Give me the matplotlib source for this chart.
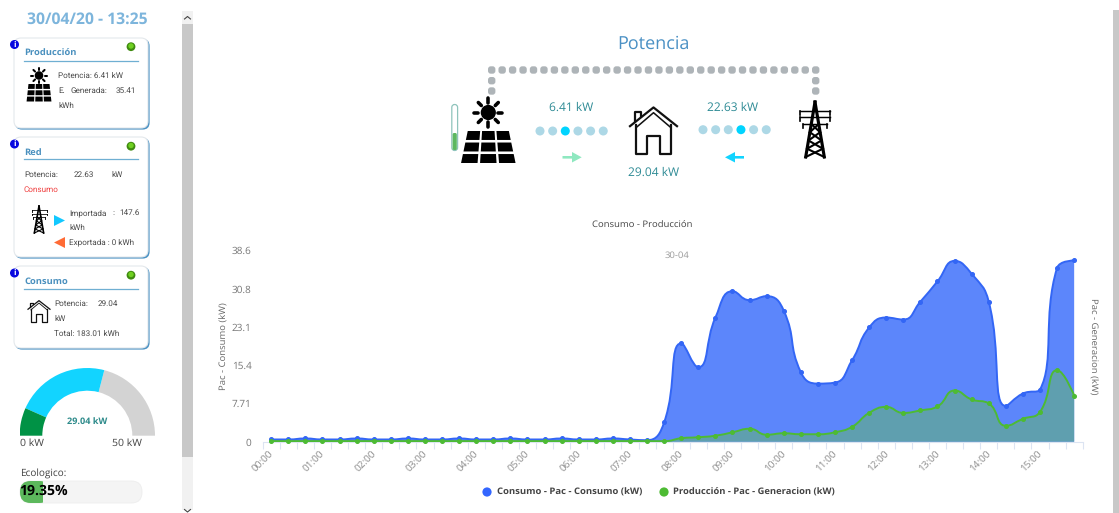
import numpy as np
import matplotlib
matplotlib.use("Agg")
import matplotlib.pyplot as plt
from matplotlib.patches import Circle, Rectangle, FancyBboxPatch, Polygon, Wedge, PathPatch
from matplotlib.path import Path
from matplotlib.transforms import ScaledTranslation

FONT = "Open Sans"
plt.rcParams["font.family"] = [FONT, "DejaVu Sans"]
plt.rcParams["text.hinting"] = "none"
plt.rcParams["text.hinting_factor"] = 8

consumo = [0.45, 0.45, 0.65, 0.45, 0.45, 0.65, 0.45, 0.45, 0.65, 0.45, 0.45, 0.65,
           0.45, 0.45, 0.65, 0.45, 0.45, 0.65, 0.45, 0.45, 0.65, 0.45, 0.3, 3.9,
           19.8, 15.0, 25.0, 30.3, 28.5, 29.3, 26.4, 14.0, 11.7, 11.9, 16.4, 23.0,
           25.0, 24.6, 28.2, 32.3, 36.4, 33.8, 28.2, 7.2, 9.7, 10.5, 35.0, 36.5]
produccion = [0.12] * 23 + [0.1, 0.7, 0.9, 1.2, 1.9, 2.6, 1.4, 1.7, 1.5, 1.5, 1.9, 3.0, 5.8,
              7.0, 5.8, 6.3, 7.1, 10.3, 8.5, 7.7, 3.2, 4.6, 6.0, 14.4, 9.3]
hours = ["%02d:00" % h for h in range(16)]
y_ticks = [0, 7.71, 15.4, 23.1, 30.8, 38.6]
y_labels = ["0", "7.71", "15.4", "23.1", "30.8", "38.6"]

W, H = 1119, 513
fig = plt.figure(figsize=(W / 100, H / 100), dpi=100, facecolor="white")
bg = fig.add_axes([0, 0, 1, 1])
bg.set_xlim(0, W); bg.set_ylim(H, 0); bg.axis("off")


def px(s):
    return s * 0.72


def txt(x, y, s, size=8, color="#555555", ha="left", weight="normal", **kw):
    return bg.text(x, y, s, fontsize=px(size), color=color, ha=ha, va="center", fontweight=weight, **kw)


def ctxt(x, y, s, color="#4A4A4A"):
    return txt(x, y, s, 8.2, color, family=["Roboto", "DejaVu Sans"], zorder=4)


def poly(pts, color, z=3, **kw):
    bg.add_patch(Polygon(pts, closed=True, fc=color, ec="none", zorder=z, **kw))


def solar(cx, sy, r, ray, ptop, pbot, ht, hb):
    bg.add_patch(Circle((cx, sy), r, fc="black", ec="none", zorder=3))
    for a in np.arange(8) * np.pi / 4:
        bg.plot([cx + (r + ray * .35) * np.cos(a), cx + (r + ray) * np.cos(a)],
                [sy + (r + ray * .35) * np.sin(a), sy + (r + ray) * np.sin(a)],
                color="black", lw=max(1.1, r * .34), solid_capstyle="round", zorder=3)
    rows, cols = 3, 3
    gap = (pbot - ptop) * .08
    rh = ((pbot - ptop) - 2 * gap) / rows
    for i in range(rows):
        y0 = ptop + i * (rh + gap); y1 = y0 + rh
        def xe(y, u):
            h = ht + (hb - ht) * (y - ptop) / (pbot - ptop)
            return cx - h + 2 * h * u
        for j in range(cols):
            u0 = j / cols + .022; u1 = (j + 1) / cols - .022
            poly([(xe(y0, u0), y0), (xe(y0, u1), y0), (xe(y1, u1), y1), (xe(y1, u0), y1)], "black")


def house(x0, x1, y0, y1, lw):
    w = x1 - x0; h = y1 - y0
    bg.plot([x0, x0 + .5 * w, x1], [y0 + .42 * h, y0 + .03 * h, y0 + .42 * h], color="#111111", lw=lw, zorder=3)
    bg.plot([x0 + .1 * w, x0 + .1 * w, x0 + .24 * w, x0 + .24 * w],
            [y0 + .31 * h, y0 + .12 * h, y0 + .12 * h, y0 + .2 * h], color="#111111", lw=lw, zorder=3)
    bg.plot([x0 + .13 * w, x0 + .13 * w, x0 + .36 * w, x0 + .36 * w, x0 + .64 * w, x0 + .64 * w, x0 + .87 * w, x0 + .87 * w],
            [y0 + .4 * h, y1, y1, y0 + .62 * h, y0 + .62 * h, y1, y1, y0 + .4 * h], color="#111111", lw=lw, zorder=3)
    bg.plot([x0 + .13 * w, x0 + .5 * w, x0 + .87 * w], [y0 + .45 * h, y0 + .14 * h, y0 + .45 * h],
            color="#111111", lw=lw * .7, zorder=3)


def tower(cx, y0, y1, hw, lw):
    h = y1 - y0
    c = "black"
    bg.plot([cx, cx - hw * .62], [y0, y1], color=c, lw=lw * 1.5, zorder=3)
    bg.plot([cx, cx + hw * .62], [y0, y1], color=c, lw=lw * 1.5, zorder=3)
    for f, w in [(.16, 1.0), (.28, 1.0), (.40, .8)]:
        bg.plot([cx - hw * w, cx + hw * w], [y0 + f * h, y0 + f * h], color=c, lw=lw * .7, zorder=3)
        bg.plot([cx - hw * w, cx - hw * w], [y0 + f * h, y0 + (f + .07) * h], color=c, lw=lw * .8, zorder=3)
        bg.plot([cx + hw * w, cx + hw * w], [y0 + f * h, y0 + (f + .07) * h], color=c, lw=lw * .8, zorder=3)
    fs = [.4, .55, .7, .85, 1.0]
    for a, b in zip(fs[:-1], fs[1:]):
        wa, wb = hw * .62 * a, hw * .62 * b
        bg.plot([cx - wa, cx + wb], [y0 + a * h, y0 + b * h], color=c, lw=lw, zorder=3)
        bg.plot([cx + wa, cx - wb], [y0 + a * h, y0 + b * h], color=c, lw=lw, zorder=3)


def card(x0, y0, x1, y1):
    bg.add_patch(FancyBboxPatch((x0 + 1, y0 + 1), x1 - x0 + .6, y1 - y0 + .6,
                                boxstyle="round,pad=0,rounding_size=7", fc="#4E94C4", ec="none", zorder=1))
    bg.add_patch(FancyBboxPatch((x0, y0), x1 - x0, y1 - y0,
                                boxstyle="round,pad=0,rounding_size=7", fc="white", ec="#E4E8EC", lw=.8, zorder=2))


def head(y, title, ty, ly):
    bg.add_patch(Circle((14.5, y), 4.5, fc="#0808E0", ec="none", zorder=4))
    bg.text(14.5, y + .2, "i", fontsize=6, color="white", weight="bold", ha="center", va="center", zorder=5)
    bg.add_patch(Circle((131, y + 2.2), 4.4, fc="#3F8A10", ec="none", zorder=4))
    bg.add_patch(Circle((131, y + 1.5), 2.7, fc="#6FD020", ec="none", zorder=5))
    txt(24, ty, title, 9.4, "#4A90BE", weight="bold", zorder=4)
    bg.plot([24, 138], [ly, ly], color="#6FAFD2", lw=.9, zorder=4)


# scrollbars
bg.add_patch(Rectangle((182, 11), 11, 499, fc="#F1F1F1", ec="none"))
bg.add_patch(Rectangle((182, 24), 11, 433, fc="#C8C8C8", ec="none"))
bg.plot([184.5, 187.5, 190.5], [19, 16.5, 19], color="#444444", lw=.8)
bg.plot([184.5, 187.5, 190.5], [509.5, 512, 509.5], color="#444444", lw=.8)
bg.add_patch(Rectangle((1113, 10), 6, 503, fc="#C8C8C8", ec="none"))

# left column
txt(87.5, 20, "30/04/20 - 13:25", 15.8, "#7DB5DC", ha="center", weight="bold")
card(14, 38, 148, 128)
head(44.5, "Producción", 53, 60.5)
solar(39, 75.5, 4.3, 3.6, 84, 101.5, 11, 13)
ctxt(58, 76, "Potencia: 6.41 kW")
ctxt(58, 91, "E."); ctxt(71, 91, "Generada:"); ctxt(116, 91, "35.41")
ctxt(58, 106, "kWh")

card(14, 137, 148, 257)
head(144, "Red", 152.5, 159)
ctxt(24, 175, "Potencia:"); ctxt(74, 175, "22.63"); ctxt(111, 175, "kW")
ctxt(24, 190, "Consumo", "#F04040")
tower(39, 206, 233, 7.5, .8)
poly([(54, 215), (65, 220.5), (54, 226)], "#12C8FF")
poly([(65, 237), (54, 242.5), (65, 248)], "#FF6B35")
ctxt(69, 213, "Importada"); ctxt(112, 213, ":"); ctxt(119, 213, "147.6")
ctxt(69, 227.5, "kWh")
ctxt(69, 242, "Exportada : 0 kWh")

card(14, 266, 148, 348)
head(273, "Consumo", 282, 288.5)
house(28, 50, 300, 322, .9)
ctxt(54, 304, "Potencia:"); ctxt(98, 304, "29.04")
ctxt(54, 319, "kW")
ctxt(54, 334, "Total: 183.01 kWh")

# gauge
GC, GY, RO, RI = 87.3, 435.7, 67.7, 45.0
gauge_value, gauge_max, eco_stop = 29.04, 50, 0.133
gax = fig.add_axes([(GC - RO) / W, 1 - (GY + .3) / H, 2 * RO / W, (RO + .3) / H])
gax.set_xlim(-RO, RO); gax.set_ylim(-.3, RO); gax.axis("off"); gax.set_aspect("equal")
for a0, a1, col in [(0, 1 - gauge_value / gauge_max, "#D3D3D3"),
                    (1 - gauge_value / gauge_max, 1 - eco_stop, "#12D4FF"),
                    (1 - eco_stop, 1, "#009245")]:
    gax.add_patch(Wedge((0, 0), RO, a0 * 180, a1 * 180, width=RO - RI, fc=col, ec="none"))
txt(87, 422, "29.04 kW", 9.2, "#2E8B8B", ha="center", weight="bold")
txt(20, 443.5, "0 kW", 10.5, "#444444")
txt(142, 443.5, "50 kW", 10.5, "#444444", ha="right")

txt(20, 474, "Ecologico:", 10, "#444444")
bg.add_patch(FancyBboxPatch((20, 481), 122, 22, boxstyle="round,pad=0,rounding_size=10.5", fc="#F4F4F4", ec="#EDEDED", lw=.6))
bar = FancyBboxPatch((20, 481), 30, 22, boxstyle="round,pad=0,rounding_size=10.5", fc="#5CB85C", ec="none", zorder=2)
bg.add_patch(bar)
bar.set_clip_path(Rectangle((20, 481), 23, 22, transform=bg.transData))
txt(19.5, 491.5, "19.35%", 14, "black", weight="bold", zorder=4)

# power diagram
txt(653.5, 44, "Potencia", 18, "#4A90C4", ha="center")
xs_top = np.arange(0, 32) * (815.7 - 491.7) / 31 + 491.7
coords = [(x, 70.0) for x in xs_top] + [(491.7, 80.7), (491.7, 91), (815.7, 80.7), (815.7, 91)]
for x, y in coords:
    bg.add_patch(FancyBboxPatch((x - 3.7, y - 3.7), 7.4, 7.4, boxstyle="round,pad=0,rounding_size=2.8", fc="#AEB4B8", ec="none"))
bg.add_patch(FancyBboxPatch((451.8, 104.5), 5.8, 46, boxstyle="round,pad=0,rounding_size=2.9", fc="white", ec="#8FC4BC", lw=.9))
bg.add_patch(FancyBboxPatch((452.6, 133), 4.2, 17, boxstyle="round,pad=0,rounding_size=1.5", fc="#5CB860", ec="none", zorder=2))
solar(488.3, 112.5, 7.6, 6.5, 131, 163, 21.5, 28.5)
house(630, 677, 106, 154, 1.6)
tower(815, 102, 157, 15, 1.5)

txt(571, 108, "6.41 kW", 12, "#2E8B95", ha="center")
txt(733, 108, "22.63 kW", 12, "#2E8B95", ha="center")
txt(653.5, 172.5, "29.04 kW", 12, "#2E8B95", ha="center")
for i, x in enumerate(np.arange(6) * 12.65 + 540):
    bg.add_patch(Circle((x, 131), 4.5, fc="#00D4FF" if i == 2 else "#ADD8E6", ec="none"))
for i, x in enumerate(np.arange(6) * 12.65 + 703):
    bg.add_patch(Circle((x, 129.7), 4.5, fc="#00D4FF" if i == 3 else "#ADD8E6", ec="none"))
poly([(562.5, 156), (572, 156), (572, 152), (581.7, 157.3), (572, 162.5), (572, 158.6), (562.5, 158.6)], "#8FE8C0")
poly([(744, 156), (735, 156), (735, 152), (725, 157.3), (735, 162.5), (735, 158.6), (744, 158.6)], "#12D4FF")

# chart
L, R, T, B = 262.7, 1082.7, 250.0, 441.7
ax = fig.add_axes([L / W, 1 - B / H, (R - L) / W, (B - T) / H])
ax.patch.set_alpha(0)
x = np.arange(len(consumo))
SX = (R - L) / len(consumo)
SY = (B - T) / 38.6


def smooth(xv, yv, s=0.5):
    # Tangent-continuous Bezier through the points, bounded by each segment
    px_ = np.asarray(xv, float) * SX
    py_ = np.asarray(yv, float) * SY
    n = len(px_)
    verts = [(px_[0], py_[0])]
    codes = [Path.MOVETO]
    cx, cy = px_[0], py_[0]
    for i in range(1, n):
        xc, yc = px_[i], py_[i]
        pvx, pvy = px_[i - 1], py_[i - 1]
        nx, ny = (px_[i + 1], py_[i + 1]) if i + 1 < n else (xc, yc)
        if i + 1 < n:
            vx, vy = nx - pvx, ny - pvy
            lp = np.hypot(xc - pvx, yc - pvy)
            ln = np.hypot(nx - xc, ny - yc)
            r = ln / (ln + lp)
            n1x = xc + vx * s * r
            n1y = yc + vy * s * r
            n1x = np.clip(n1x, min(nx, xc), max(nx, xc))
            n1y = np.clip(n1y, min(ny, yc), max(ny, yc))
            vx, vy = n1x - xc, n1y - yc
            n0x = xc - vx * lp / ln
            n0y = yc - vy * lp / ln
            n0x = np.clip(n0x, min(pvx, xc), max(pvx, xc))
            n0y = np.clip(n0y, min(pvy, yc), max(pvy, yc))
            vx, vy = xc - n0x, yc - n0y
            n1x = xc + vx * ln / lp
            n1y = yc + vy * ln / lp
        else:
            n0x, n0y, n1x, n1y = xc, yc, xc, yc
        verts += [(cx, cy), (n0x, n0y), (xc, yc)]
        codes += [Path.CURVE4] * 3
        cx, cy = n1x, n1y
    return [(a / SX, b / SY) for a, b in verts], codes


def area(vals, fill, line, z):
    v, c = smooth(x, vals)
    av = v + [(x[-1], 0), (x[0], 0), (x[0], vals[0])]
    ac = c + [Path.LINETO, Path.LINETO, Path.CLOSEPOLY]
    ax.add_patch(PathPatch(Path(av, ac), fc=fill, ec="none", zorder=z))
    ax.add_patch(PathPatch(Path(v, c), fc="none", ec=line, lw=1.4, zorder=z + .1))
    ax.plot(x, vals, ls="none", marker="o", ms=2.6, color=line, zorder=z + .2, clip_on=False)


area(consumo, "#5C86FB", "#3366F5", 2)
area(produccion, "#5F9FAF", "#4DBB33", 3)

ax.set_xlim(-.5, len(consumo) - .5)
ax.set_ylim(0, 38.6)
for s in ["top", "left", "right"]:
    ax.spines[s].set_visible(False)
ax.spines["bottom"].set_color("#DCE4F2")
ax.set_xticks(np.arange(-.5, len(consumo), 1), minor=True)
ax.set_xticks(np.arange(len(hours)) * 3 - .5)
ax.set_xticklabels(hours, rotation=45, ha="right", va="top", rotation_mode="anchor",
                   fontsize=px(10), color="#888888")
ax.tick_params(axis="x", which="both", length=5, width=.8, color="#DCE4F2", pad=3)
off = ScaledTranslation(5.5 / 100, 4 / 100, fig.dpi_scale_trans)
for lab in ax.get_xticklabels():
    lab.set_transform(lab.get_transform() + off)
ax.set_yticks(y_ticks)
ax.set_yticklabels(y_labels, fontsize=px(10), color="#777777")
ax.tick_params(axis="y", length=0, pad=8)

txt(224, 346, "Pac - Consumo (kW)", 9.5, "#666666", ha="center", rotation=90)
txt(1093, 346, "Pac - Generacion (kW)", 9.5, "#666666", ha="center", rotation=-90)
txt(642.5, 225, "Consumo - Producción", 9.5, "#444444", ha="center")
txt(677, 256, "30-04", 9.5, "#999999", ha="center")
bg.add_patch(Circle((487, 492), 4.6, fc="#3366FF", ec="none"))
txt(497, 492, "Consumo - Pac - Consumo (kW)", 9.5, "#444444", weight="bold")
bg.add_patch(Circle((664, 492), 4.6, fc="#4DBB33", ec="none"))
txt(673, 492, "Producción - Pac - Generacion (kW)", 9.4, "#444444", weight="bold")

fig.savefig("out.png", dpi=100)
